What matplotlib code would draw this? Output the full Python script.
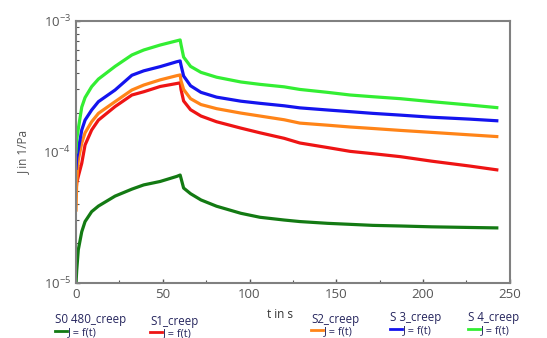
import matplotlib
matplotlib.use("Agg")
import matplotlib.pyplot as plt
from matplotlib.ticker import LogLocator, MultipleLocator, NullFormatter

plt.rcParams['font.family'] = ['Open Sans', 'DejaVu Sans']

# time axis (s): loading phase and recovery phase
t_load = [0, 0.4, 1.3, 3.3, 5.2, 9, 12.9, 22.5, 32.2, 39, 48.5, 58, 60]
t_rec = [60.5, 62, 66, 72, 81, 95, 106, 120, 129, 145, 158, 171, 187, 205, 227, 242.5]

# compliance J in 1/Pa
s0_load = [1.0e-5, 1.25e-5, 1.79e-5, 2.46e-5, 2.94e-5, 3.5e-5, 3.86e-5, 4.6e-5, 5.2e-5, 5.6e-5, 5.95e-5, 6.5e-5, 6.66e-5]
s0_rec = [6.3e-5, 5.3e-5, 4.8e-5, 4.3e-5, 3.85e-5, 3.4e-5, 3.17e-5, 3.02e-5, 2.94e-5, 2.85e-5, 2.8e-5, 2.75e-5, 2.72e-5, 2.68e-5, 2.65e-5, 2.63e-5]

s1_load = [5.0e-5, 5.8e-5, 6.5e-5, 8.2e-5, 1.13e-4, 1.47e-4, 1.75e-4, 2.22e-4, 2.72e-4, 2.88e-4, 3.16e-4, 3.33e-4, 3.37e-4]
s1_rec = [3.0e-4, 2.45e-4, 2.1e-4, 1.88e-4, 1.7e-4, 1.52e-4, 1.4e-4, 1.27e-4, 1.17e-4, 1.08e-4, 1.01e-4, 9.7e-5, 9.2e-5, 8.5e-5, 7.8e-5, 7.3e-5]

s2_load = [3.6e-5, 6.0e-5, 8.7e-5, 1.17e-4, 1.4e-4, 1.7e-4, 1.97e-4, 2.42e-4, 2.97e-4, 3.24e-4, 3.55e-4, 3.82e-4, 3.87e-4]
s2_rec = [3.5e-4, 3.0e-4, 2.55e-4, 2.3e-4, 2.14e-4, 1.98e-4, 1.88e-4, 1.76e-4, 1.66e-4, 1.6e-4, 1.55e-4, 1.51e-4, 1.46e-4, 1.41e-4, 1.35e-4, 1.31e-4]

s3_load = [7.5e-5, 9.0e-5, 1.04e-4, 1.47e-4, 1.75e-4, 2.09e-4, 2.42e-4, 2.97e-4, 3.85e-4, 4.16e-4, 4.48e-4, 4.88e-4, 4.95e-4]
s3_rec = [4.6e-4, 3.8e-4, 3.2e-4, 2.85e-4, 2.62e-4, 2.44e-4, 2.35e-4, 2.25e-4, 2.17e-4, 2.09e-4, 2.03e-4, 1.97e-4, 1.91e-4, 1.84e-4, 1.78e-4, 1.73e-4]

s4_load = [1.0e-4, 1.25e-4, 1.5e-4, 2.2e-4, 2.6e-4, 3.15e-4, 3.6e-4, 4.5e-4, 5.5e-4, 6.0e-4, 6.55e-4, 7.05e-4, 7.16e-4]
s4_rec = [6.6e-4, 5.3e-4, 4.5e-4, 4.05e-4, 3.72e-4, 3.42e-4, 3.28e-4, 3.14e-4, 3.0e-4, 2.85e-4, 2.72e-4, 2.64e-4, 2.55e-4, 2.42e-4, 2.28e-4, 2.18e-4]

names = ['S0 480_creep', 'S1_creep', 'S2_creep', 'S 3_creep', 'S 4_creep']
colors = ['#137a13', '#ee1414', '#ff8418', '#1414ee', '#33ee33']
series = [(s0_load, s0_rec), (s1_load, s1_rec), (s2_load, s2_rec),
          (s3_load, s3_rec), (s4_load, s4_rec)]

fig = plt.figure(figsize=(5.47, 3.38), dpi=100)
ax = fig.add_axes([0.139, 0.163, 0.793, 0.775])

for (load, rec), c in zip(series, colors):
    ax.plot(t_load + t_rec, load + rec, color=c, lw=2.3, solid_joinstyle='round')

ax.set_yscale('log')
ax.set_xlim(0, 250)
ax.set_ylim(1e-5, 1e-3)
ax.xaxis.set_major_locator(MultipleLocator(50))
ax.xaxis.set_minor_locator(MultipleLocator(25))
ax.yaxis.set_major_locator(LogLocator(base=10))
ax.yaxis.set_minor_locator(LogLocator(base=10, subs=range(2, 10)))
ax.yaxis.set_minor_formatter(NullFormatter())
ax.tick_params(which='both', direction='in', colors='#555555', labelsize=9.5,
               top=False, right=False)
ax.tick_params(which='major', length=3, width=1)
ax.tick_params(which='minor', length=2, width=0.8)
for sp in ax.spines.values():
    sp.set_color('#808080')
    sp.set_linewidth(1.5)

ax.set_ylabel('J in 1/Pa', fontsize=8.5, color='#555555', labelpad=10)
fig.text(280 / 547, 1 - 314 / 338, 't in s', fontsize=8.5, color='#333333',
         ha='center', va='center')

# legend below the axes, one column per series
leg_x = [55, 150, 311, 390, 468]
leg_y = [320, 321, 319, 318, 318]
for name, c, x, y in zip(names, colors, leg_x, leg_y):
    fig.text(x / 547, 1 - y / 338, name, fontsize=8.3, color='#26265e',
             ha='left', va='center')
    fig.add_artist(plt.Line2D([x / 547, (x + 12) / 547],
                              [1 - (y + 11) / 338, 1 - (y + 11) / 338],
                              color=c, lw=2, transform=fig.transFigure))
    fig.text((x + 13) / 547, 1 - (y + 12.5) / 338, 'J = f(t)', fontsize=7.8,
             color='#26265e', ha='left', va='center')

fig.savefig('out.png', dpi=100)
